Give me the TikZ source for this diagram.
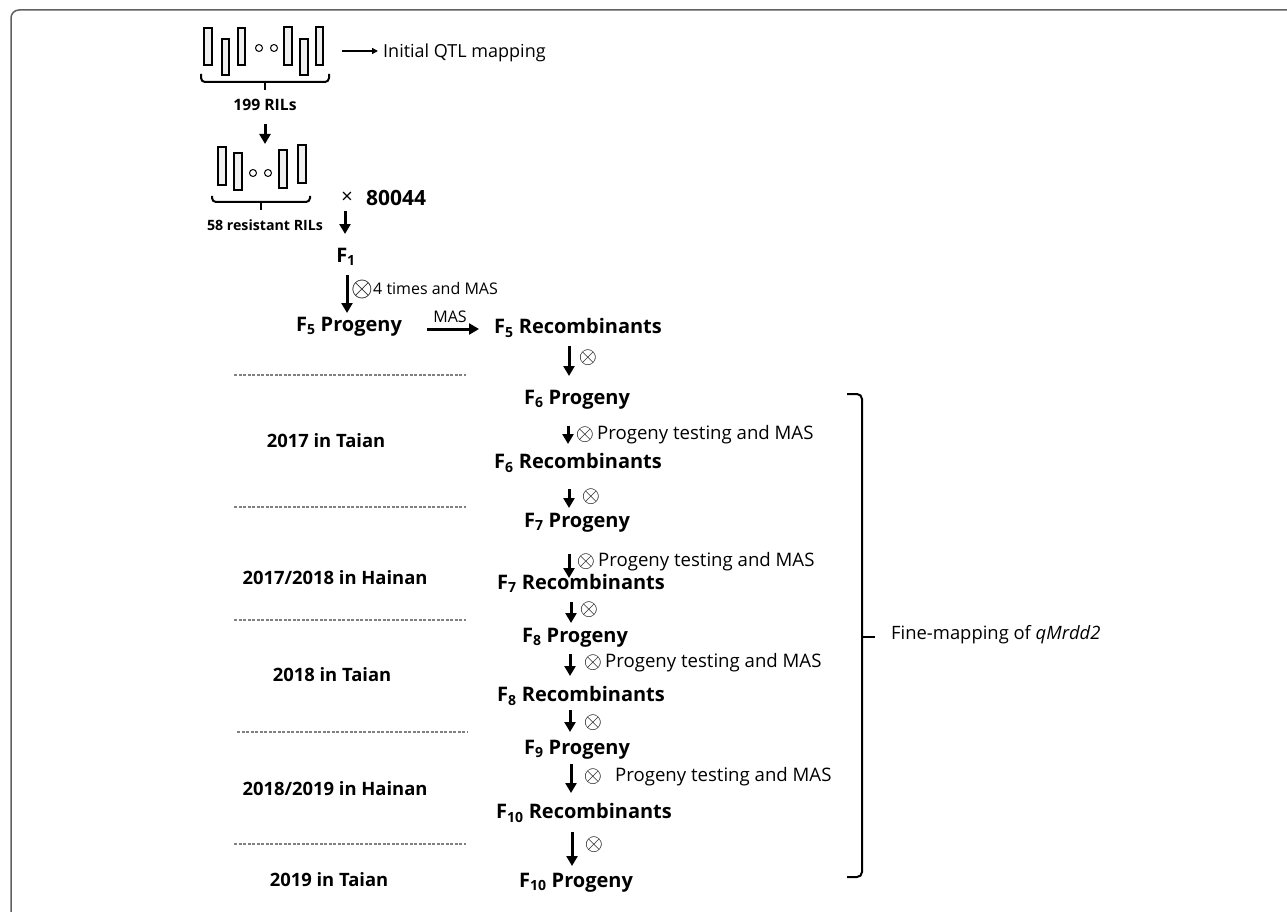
\documentclass[tikz,border=0pt]{standalone}
\usepackage{fontspec}
\usepackage{graphicx}
\setmainfont{Open Sans}
\usetikzlibrary{arrows.meta}
\newcommand\Fs[1]{F\textsubscript{#1}}
\newcommand\ox{\scalebox{1.35}{$\otimes$}}
\begin{document}
\begin{tikzpicture}[x=1pt,y=-1pt,
 bl/.style={font=\fontsize{20}{24}\selectfont\bfseries, inner sep=0pt},
 yr/.style={font=\fontsize{18.4}{22}\selectfont\bfseries, inner sep=0pt},
 rg/.style={font=\fontsize{18.6}{22}\selectfont, inner sep=0pt, anchor=west},
 sm/.style={font=\fontsize{16}{20}\selectfont, inner sep=0pt},
 ox/.style={font=\fontsize{18}{20}\selectfont, inner sep=0pt},
 darr/.style={line width=3pt, -{Triangle[length=10pt,width=11pt]}},
 thinarr/.style={line width=1.3pt, -{Triangle[length=6pt,width=6pt]}},
 bar/.style={draw, line width=1.5pt, fill=gray!12},
 dot/.style={draw, line width=1pt},
 brc/.style={line width=2pt},
 dsh/.style={gray, line width=1.2pt, dash pattern=on 3pt off 1.5pt},
]
\useasboundingbox (0,0) rectangle (1287,912);
% frame
\draw[line width=1.5pt, gray!75!black, rounded corners=8pt] (11,912) -- (11,10) -- (1287,10);

% first group of RILs
\draw[bar] (204,28) rectangle (212,65);
\draw[bar] (222,39) rectangle (229,75);
\draw[bar] (238,28) rectangle (245,65);
\draw[dot] (259,48) circle[radius=3.5];
\draw[dot] (274,48) circle[radius=3.5];
\draw[bar] (284,27) rectangle (292,65);
\draw[bar] (300,39) rectangle (308,75);
\draw[bar] (316,27) rectangle (323,65);
\draw[brc, rounded corners=4pt] (201,74) -- (201,82) -- (329,82) -- (329,74);
\draw[brc] (265,82) -- (265,90);
\node[bl, font=\fontsize{15.7}{20}\selectfont\bfseries] (rils) at (265,105) {199 RILs};
\node[rg, font=\fontsize{18}{22}\selectfont] (iqm) at (383,53) {Initial QTL mapping};
\coordinate (qa) at (342,51);
\draw[thinarr] (qa) -- ([xshift=-5pt]iqm.west |- qa);

\coordinate (r1) at (265,124);
\coordinate (r2) at (265,144);
\draw[darr] (r1) -- (r2);

% second group
\draw[bar] (218,147) rectangle (226,185);
\draw[bar] (234,153) rectangle (242,190);
\draw[dot] (253,173) circle[radius=3.5];
\draw[dot] (268,173) circle[radius=3.5];
\draw[bar] (279,150) rectangle (287,188);
\draw[bar] (298,145) rectangle (306,183);
\draw[brc, rounded corners=4pt] (212,196) -- (212,202) -- (310,202) -- (310,196);
\draw[brc] (261,202) -- (261,210);
\node[bl, font=\fontsize{14.2}{18}\selectfont\bfseries] (res) at (265,225) {58 resistant RILs};

\node[sm, font=\fontsize{20}{22}\selectfont] (cross) at (347,198) {×};
\node[bl, font=\fontsize{21}{24}\selectfont\bfseries, anchor=west] (n80) at (366,198) {80044};
\coordinate (c1) at (345,211);
\coordinate (c2) at (345,234);
\draw[darr] (c1) -- (c2);
\node[bl] (f1) at (346,257) {\Fs{1}};
\coordinate (d1) at (347,275);
\coordinate (d2) at (347,313);
\draw[darr] (d1) -- (d2);
\node[ox, font=\fontsize{20}{22}\selectfont] (o0) at (362,289) {\ox};
\node[sm, anchor=west] (l1) at (373,288) {4 times and MAS};

\node[bl] (f5p) at (349,327) {\Fs{5} Progeny};
\coordinate (m1) at (427,329);
\coordinate (m2) at (479,329);
\draw[darr] (m1) -- (m2);
\node[sm] (mas) at (450,317) {MAS};
\node[bl] (f5r) at (578,328) {\Fs{5} Recombinants};

% dashed separators
\draw[dsh] (234,375) -- (466,375);
\draw[dsh] (234,507) -- (466,507);
\draw[dsh] (234,620) -- (466,620);
\draw[dsh] (237,732) -- (467,732);
\draw[dsh] (234,844) -- (466,844);

% years
\node[yr] (y1) at (326,441) {2017 in Taian};
\node[yr] (y2) at (335,578) {2017/2018 in Hainan};
\node[yr] (y3) at (332,675) {2018 in Taian};
\node[yr] (y4) at (335,789) {2018/2019 in Hainan};
\node[yr] (y5) at (329,880) {2019 in Taian};

% right column
\coordinate (a1) at (569,346);
\coordinate (b1) at (569,376);
\draw[darr] (a1) -- (b1);
\node[ox] (o1) at (588,358) {\ox};

\node[bl] (f6p) at (577,400) {\Fs{6} Progeny};
\coordinate (a2) at (568,426);
\coordinate (b2) at (568,444);
\draw[darr] (a2) -- (b2);
\node[ox] (o2) at (585,435) {\ox};
\node[rg] (t2) at (597,435) {Progeny testing and MAS};

\node[bl] (f6r) at (578,463) {\Fs{6} Recombinants};
\coordinate (a3) at (569,489);
\coordinate (b3) at (569,508);
\draw[darr] (a3) -- (b3);
\node[ox] (o3) at (591,497) {\ox};

\node[bl] (f7p) at (577,523) {\Fs{7} Progeny};
\coordinate (a4) at (569,554);
\coordinate (b4) at (569,578);
\draw[darr] (a4) -- (b4);
\node[ox] (o4) at (586,562) {\ox};
\node[rg] (t4) at (598,562) {Progeny testing and MAS};

\node[bl] (f7r) at (581,583) {\Fs{7} Recombinants};
\coordinate (a5) at (571,602);
\coordinate (b5) at (571,623);
\draw[darr] (a5) -- (b5);
\node[ox] (o5) at (589,610) {\ox};

\node[bl] (f8p) at (575,638) {\Fs{8} Progeny};
\coordinate (a6) at (570,654);
\coordinate (b6) at (570,676);
\draw[darr] (a6) -- (b6);
\node[ox] (o6) at (593,663) {\ox};
\node[rg] (t6) at (605,663) {Progeny testing and MAS};

\node[bl] (f8r) at (581,696) {\Fs{8} Recombinants};
\coordinate (a7) at (570,710);
\coordinate (b7) at (570,732);
\draw[darr] (a7) -- (b7);
\node[ox] (o7) at (593,723) {\ox};

\node[bl] (f9p) at (577,750) {\Fs{9} Progeny};
\coordinate (a8) at (571,764);
\coordinate (b8) at (571,793);
\draw[darr] (a8) -- (b8);
\node[ox] (o8) at (593,777) {\ox};
\node[rg] (t8) at (615,777) {Progeny testing and MAS};

\node[bl] (f10r) at (584,813) {\Fs{10} Recombinants};
\coordinate (a9) at (572,832);
\coordinate (b9) at (572,866);
\draw[darr] (a9) -- (b9);
\node[ox] (o9) at (594,845) {\ox};

\node[bl] (f10p) at (576,883) {\Fs{10} Progeny};

% big brace
\draw[brc, rounded corners=5pt] (847,394) -- (862,394) -- (862,637);
\draw[brc, rounded corners=5pt] (862,637) -- (862,877) -- (847,877);
\draw[brc] (862,637) -- (875,637);
\node[rg, font=\fontsize{18.4}{22}\selectfont] (fm) at (891,635) {Fine-mapping of \textit{qMrdd2}};
\end{tikzpicture}
\end{document}
